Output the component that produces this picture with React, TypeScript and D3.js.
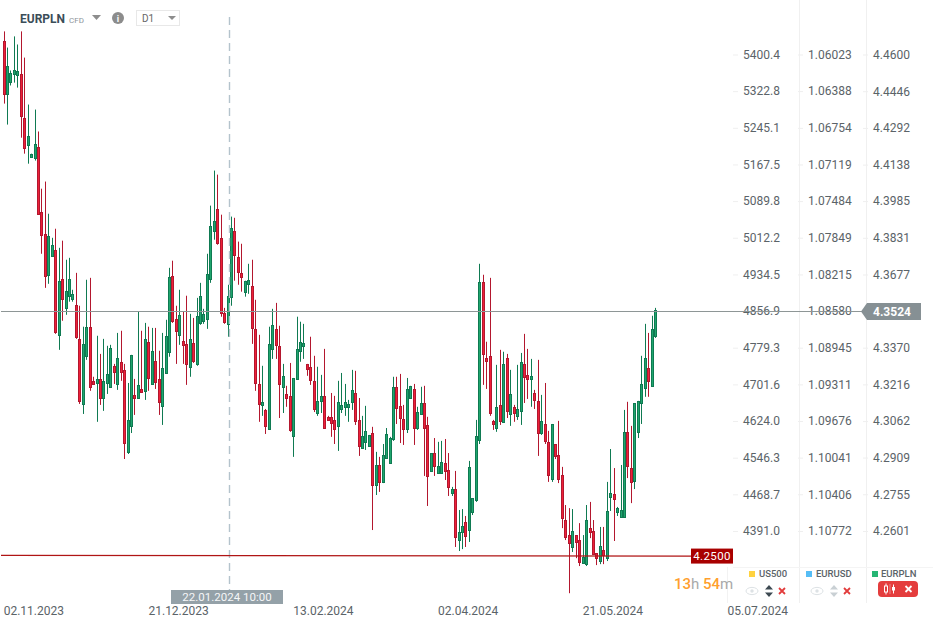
import { useEffect, useRef } from "react";
import * as d3 from "d3";

const W = 933;
const H = 629;

// EURPLN daily candles
const highs = [
  4.4697,4.4629,4.4533,4.4676,4.4642,4.4697,4.4587,4.4390,4.4184,4.4369,
  4.4277,4.4037,4.4067,4.3932,4.3831,4.3869,4.3789,4.3819,4.3739,4.3747,
  4.3613,4.3684,4.3546,4.3458,4.3655,4.3663,4.3248,4.3420,4.3344,4.3407,
  4.3378,4.3382,4.3302,4.3432,4.3441,4.3302,4.3222,4.3340,4.3239,4.3521,
  4.3441,4.3474,4.3458,4.3453,4.3453,4.3357,4.3432,4.3487,4.3705,4.3735,
  4.3546,4.3613,4.3521,4.3588,4.3512,4.3495,4.3579,4.3642,4.3533,4.3764,
  4.3966,4.4113,4.4096,4.3928,4.3537,4.3634,4.3920,4.3915,4.3815,4.3806,
  4.3651,4.3722,4.3739,4.3571,4.3424,4.3294,4.3113,4.3458,4.3533,4.3558,
  4.3462,4.3302,4.3210,4.3306,4.3243,4.3500,4.3479,4.3470,4.3302,4.3416,
  4.3336,4.3290,4.3256,4.3365,4.3084,4.3180,4.3168,4.3231,4.3264,4.3218,
  4.3151,4.3277,4.3273,4.3159,4.3084,4.3126,4.3004,4.3038,4.2933,4.2912,
  4.2966,4.3033,4.2996,4.3248,4.3248,4.3260,4.3130,4.3243,4.3210,4.3218,
  4.3122,4.3206,4.3210,4.3080,4.2928,4.2991,4.2975,4.2979,4.2987,4.2928,
  4.2786,4.2853,4.2689,4.2693,4.2664,4.2895,4.2739,4.3067,4.3722,4.3676,
  4.3395,4.3663,4.3067,4.3298,4.3361,4.3353,4.3344,4.3277,4.3130,4.3298,
  4.3348,4.3428,4.3365,4.3323,4.3193,4.3319,4.3172,4.3222,4.3021,4.3050,
  4.2966,4.3063,4.2870,4.2710,4.2697,4.2693,4.2584,4.2634,4.2584,4.2710,
  4.2723,4.2647,4.2508,4.2618,4.2618,4.2807,4.2945,4.2865,4.2702,4.2878,
  4.3109,4.3143,4.3042,4.3138,4.3147,4.3336,4.3470,4.3432,4.3504,4.3537,
];

const lows = [
  4.4394,4.4306,4.4470,4.4482,4.4461,4.4251,4.4184,4.4142,4.4172,4.4155,
  4.3928,4.3764,4.3621,4.3638,4.3756,4.3428,4.3361,4.3483,4.3508,4.3563,
  4.3563,4.3407,4.3134,4.3092,4.3319,4.3189,4.3214,4.3059,4.3130,4.3105,
  4.3176,4.3206,4.3218,4.3193,4.3231,4.2903,4.2924,4.3012,4.3088,4.3155,
  4.3185,4.3151,4.3189,4.3218,4.3197,4.3088,4.3046,4.3264,4.3332,4.3474,
  4.3302,4.3382,4.3302,4.3214,4.3248,4.3306,4.3294,4.3466,4.3470,4.3449,
  4.3642,4.3823,4.3802,4.3500,4.3470,4.3416,4.3546,4.3651,4.3634,4.3605,
  4.3584,4.3596,4.3386,4.3189,4.3059,4.3084,4.3008,4.3029,4.3323,4.3323,
  4.3075,4.3096,4.3122,4.3017,4.2912,4.3239,4.3311,4.3323,4.3252,4.3214,
  4.3100,4.3084,4.3096,4.3029,4.3067,4.2996,4.2966,4.2937,4.3096,4.3084,
  4.3059,4.3109,4.3046,4.2916,4.2945,4.2941,4.2958,4.2605,4.2752,4.2765,
  4.2802,4.2907,4.2886,4.2979,4.3050,4.2970,4.2962,4.3012,4.3159,4.2962,
  4.3025,4.3092,4.2832,4.2706,4.2853,4.2832,4.2844,4.2844,4.2815,4.2748,
  4.2748,4.2534,4.2517,4.2525,4.2534,4.2555,4.2668,4.2723,4.2966,4.3214,
  4.3197,4.3084,4.3025,4.3017,4.3046,4.3059,4.3075,4.3042,4.3059,4.3067,
  4.3046,4.3138,4.3155,4.3122,4.3113,4.2916,4.3004,4.2966,4.2807,4.2807,
  4.2903,4.2802,4.2613,4.2563,4.2340,4.2513,4.2487,4.2454,4.2466,4.2454,
  4.2571,4.2504,4.2458,4.2462,4.2462,4.2475,4.2685,4.2559,4.2664,4.2656,
  4.2660,4.2823,4.2718,4.2777,4.2991,4.3050,4.3164,4.3164,4.3210,4.3411,
];

const opens = [
  4.4655,4.4432,4.4487,4.4516,4.4512,4.4520,4.4335,4.4218,4.4172,4.4167,
  4.4214,4.3941,4.3848,4.3676,4.3756,4.3781,4.3424,4.3659,4.3537,4.3588,
  4.3575,4.3550,4.3407,4.3134,4.3336,4.3458,4.3231,4.3222,4.3239,4.3159,
  4.3222,4.3206,4.3294,4.3218,4.3311,4.3277,4.2933,4.3042,4.3172,4.3159,
  4.3197,4.3189,4.3395,4.3218,4.3315,4.3239,4.3126,4.3264,4.3353,4.3672,
  4.3491,4.3424,4.3399,4.3386,4.3290,4.3390,4.3302,4.3474,4.3483,4.3491,
  4.3659,4.3861,4.3953,4.3831,4.3516,4.3470,4.3584,4.3861,4.3752,4.3684,
  4.3605,4.3638,4.3630,4.3449,4.3218,4.3130,4.3109,4.3029,4.3365,4.3449,
  4.3378,4.3206,4.3176,4.3168,4.3000,4.3239,4.3357,4.3378,4.3302,4.3290,
  4.3231,4.3096,4.3147,4.3168,4.3080,4.3080,4.3067,4.3042,4.3113,4.3122,
  4.3122,4.3143,4.3180,4.3067,4.2949,4.2975,4.2958,4.3012,4.2794,4.2878,
  4.2807,4.2907,4.2886,4.2987,4.3206,4.3126,4.3071,4.3029,4.3159,4.3197,
  4.3033,4.3092,4.3138,4.3046,4.2853,4.2928,4.2844,4.2844,4.2886,4.2857,
  4.2760,4.2777,4.2563,4.2597,4.2639,4.2605,4.2681,4.2731,4.2983,4.3647,
  4.3327,4.3336,4.3063,4.3033,4.3130,4.3059,4.3327,4.3092,4.3122,4.3084,
  4.3105,4.3302,4.3256,4.3239,4.3180,4.3147,4.3012,4.3050,4.2975,4.2819,
  4.2966,4.2920,4.2836,4.2647,4.2584,4.2534,4.2584,4.2563,4.2466,4.2462,
  4.2613,4.2601,4.2508,4.2475,4.2521,4.2487,4.2744,4.2756,4.2681,4.2660,
  4.2660,4.3017,4.2865,4.2811,4.3017,4.3138,4.3201,4.3285,4.3210,4.3420,
];

const closes = [
  4.4432,4.4550,4.4524,4.4533,4.4529,4.4344,4.4209,4.4256,4.4184,4.4226,
  4.3932,4.3844,4.3672,4.3840,4.3802,4.3437,4.3651,4.3575,4.3609,4.3659,
  4.3596,4.3416,4.3147,4.3386,4.3458,4.3206,4.3218,4.3239,4.3159,4.3231,
  4.3260,4.3369,4.3269,4.3327,4.3269,4.2970,4.3067,4.3340,4.3159,4.3214,
  4.3185,4.3407,4.3243,4.3357,4.3227,4.3143,4.3285,4.3420,4.3668,4.3483,
  4.3441,4.3508,4.3382,4.3302,4.3407,4.3315,4.3504,4.3588,4.3512,4.3680,
  4.3882,4.3903,4.3810,4.3516,4.3479,4.3588,4.3873,4.3760,4.3689,4.3668,
  4.3651,4.3655,4.3453,4.3222,4.3134,4.3143,4.3042,4.3386,4.3466,4.3382,
  4.3218,4.3252,4.3159,4.3025,4.3243,4.3365,4.3395,4.3390,4.3281,4.3235,
  4.3113,4.3147,4.3168,4.3033,4.3067,4.3054,4.3029,4.3143,4.3130,4.3143,
  4.3134,4.3193,4.3063,4.2958,4.3000,4.3021,4.3004,4.2794,4.2878,4.2807,
  4.2920,4.3008,4.2991,4.3206,4.3117,4.3075,4.3029,4.3197,4.3210,4.3033,
  4.3101,4.3138,4.3033,4.2832,4.2928,4.2874,4.2874,4.2891,4.2853,4.2786,
  4.2777,4.2576,4.2597,4.2622,4.2580,4.2870,4.2739,4.3000,4.3647,4.3344,
  4.3315,4.3096,4.3050,4.3122,4.3063,4.3302,4.3105,4.3176,4.3096,4.3113,
  4.3311,4.3248,4.3239,4.3252,4.3151,4.3012,4.3063,4.2979,4.2836,4.3050,
  4.2916,4.2819,4.2655,4.2576,4.2550,4.2601,4.2555,4.2471,4.2492,4.2647,
  4.2597,4.2504,4.2487,4.2538,4.2500,4.2685,4.2760,4.2735,4.2697,4.2689,
  4.3017,4.2874,4.2807,4.3138,4.3147,4.3218,4.3327,4.3231,4.3449,4.3529,
];

// axis columns
const plnTicks = [4.46, 4.4446, 4.4292, 4.4138, 4.3985, 4.3831, 4.3677, 4.3524, 4.337, 4.3216, 4.3062, 4.2909, 4.2755, 4.2601];
const spxTicks = [5400.4, 5322.8, 5245.1, 5167.5, 5089.8, 5012.2, 4934.5, 4856.9, 4779.3, 4701.6, 4624.0, 4546.3, 4468.7, 4391.0];
const usdTicks = [1.06023, 1.06388, 1.06754, 1.07119, 1.07484, 1.07849, 1.08215, 1.0858, 1.08945, 1.09311, 1.09676, 1.10041, 1.10406, 1.10772];

const dateIdx = [0, 42, 84, 126, 168, 210];
const dateLabels = ["02.11.2023", "21.12.2023", "13.02.2024", "02.04.2024", "21.05.2024", "05.07.2024"];

const lastPrice = 4.3524;
const alertPrice = 4.25;
const crosshairIdx = 65;
const crosshairLabel = "22.01.2024 10:00";

const FONT = "Roboto, sans-serif";

export default function App() {
  const svgRef = useRef<SVGSVGElement | null>(null);

  useEffect(() => {
    if (!svgRef.current) return;
    const svg = d3.select(svgRef.current);
    svg.selectAll("*").remove();

    const x = d3.scaleLinear().domain([0, 189]).range([4, 655.5]);
    const y = d3.scaleLinear().domain([4.46, 4.2601]).range([54.5, 531]);
    const ySpx = d3.scaleLinear().domain([5400.4, 4391.0]).range([54.5, 531]);
    const yUsd = d3.scaleLinear().domain([1.06023, 1.10772]).range([54.5, 531]);
    const px = (i: number) => Math.floor(x(i)) + 0.5;

    // column separators
    [799.5, 866.5].forEach((sx) => {
      svg.append("line").attr("x1", sx).attr("x2", sx).attr("y1", 0).attr("y2", 603)
        .attr("stroke", "#f0f0f0");
    });
    svg.append("line").attr("x1", 727.5).attr("x2", 727.5).attr("y1", 567).attr("y2", 603).attr("stroke", "#f2f2f2");
    svg.append("line").attr("x1", 733).attr("x2", 933).attr("y1", 567.5).attr("y2", 567.5).attr("stroke", "#f4f4f4");

    // price axes
    const priceAxis = (scale: d3.ScaleLinear<number, number>, vals: number[], fmt: string, left: number) => {
      const g = svg.append("g").attr("transform", `translate(${left},0)`)
        .call(d3.axisRight(scale).tickValues(vals).tickSize(5).tickPadding(5).tickFormat((d) => d3.format(fmt)(d as number)));
      g.select(".domain").remove();
      g.selectAll("line").attr("stroke", "#efefef");
      g.selectAll("text").attr("fill", "#5b6368").attr("font-family", FONT).attr("font-size", 12);
    };
    priceAxis(ySpx, spxTicks, ".1f", 733);
    priceAxis(yUsd, usdTicks, ".5f", 798);
    priceAxis(y, plnTicks, ".4f", 863);

    // date axis
    const dateAxis = svg.append("g").attr("transform", "translate(-0.8,603)")
      .call(d3.axisBottom(x).tickValues(dateIdx).tickSize(0).tickPadding(3)
        .tickFormat((_, i) => dateLabels[i]));
    dateAxis.select(".domain").remove();
    dateAxis.selectAll("text").attr("fill", "#5b6368").attr("font-family", FONT).attr("font-size", 12)
      .attr("text-anchor", "start");

    // candles
    const candles = d3.range(highs.length).map((i) => ({
      i, high: highs[i], low: lows[i], open: opens[i], close: closes[i],
    }));
    const g = svg.append("g");
    const up = (d: { open: number; close: number }) => d.close > d.open;
    g.selectAll("line.wick").data(candles).enter().append("line")
      .attr("class", "wick")
      .attr("x1", (d) => px(d.i)).attr("x2", (d) => px(d.i))
      .attr("y1", (d) => y(d.high)).attr("y2", (d) => y(d.low))
      .attr("stroke", (d) => (up(d) ? "#0f7a52" : "#b3172e"));
    g.selectAll("rect.body").data(candles).enter().append("rect")
      .attr("class", "body")
      .attr("x", (d) => px(d.i) - 1)
      .attr("width", 2)
      .attr("y", (d) => Math.round(y(Math.max(d.open, d.close))) + 0.5)
      .attr("height", (d) => Math.max(1, Math.round(Math.abs(y(d.open) - y(d.close)))))
      .attr("fill", (d) => (up(d) ? "#1fa56d" : "#ee2039"))
      .attr("stroke", (d) => (up(d) ? "#0f7a52" : "#b3172e"));

    // crosshair
    const cx = px(crosshairIdx) + 1;
    svg.append("line").attr("x1", cx).attr("x2", cx).attr("y1", 17).attr("y2", 590)
      .attr("stroke", "#b4c3cc").attr("stroke-width", 1.4).attr("stroke-dasharray", "8 5");
    svg.append("rect").attr("x", 171).attr("y", 590).attr("width", 112).attr("height", 14).attr("fill", "#94a1a8");
    svg.append("text").attr("x", 227).attr("y", 601).attr("text-anchor", "middle")
      .attr("fill", "#f4f6f7").attr("font-family", FONT).attr("font-size", 11.5)
      .text(crosshairLabel);

    // current price
    const yl = Math.round(y(lastPrice)) + 0.5;
    svg.append("line").attr("x1", 1).attr("x2", 866).attr("y1", yl).attr("y2", yl).attr("stroke", "#8e9696");
    svg.append("path")
      .attr("d", `M861,${yl}L867,${yl - 8.5}H921V${yl + 8.5}H867Z`)
      .attr("fill", "#869094");
    svg.append("text").attr("x", 873).attr("y", yl + 4.5).attr("fill", "#fff")
      .attr("font-family", FONT).attr("font-size", 12).attr("font-weight", 700).text(d3.format(".4f")(lastPrice));

    // alert level
    const ya = y(alertPrice);
    svg.append("line").attr("x1", 1).attr("x2", 692).attr("y1", ya + 0.2).attr("y2", ya + 1)
      .attr("stroke", "#b01515").attr("stroke-width", 1.2);
    svg.append("rect").attr("x", 691).attr("y", ya - 6.5).attr("width", 42).attr("height", 15).attr("fill", "#a80000");
    svg.append("text").attr("x", 712).attr("y", ya + 5).attr("text-anchor", "middle").attr("fill", "#fff")
      .attr("font-family", FONT).attr("font-size", 11.5).attr("letter-spacing", 0.4).text(d3.format(".4f")(alertPrice));

    // countdown
    const timer = svg.append("text").attr("x", 674).attr("y", 589).attr("font-family", FONT).attr("font-size", 15);
    [["13", "#ff9f2e", 500], ["h ", "#a9a9a9", 400], ["54", "#ff9f2e", 500], ["m", "#a9a9a9", 400]].forEach(([t, c, w]) => {
      timer.append("tspan").attr("fill", c as string).attr("font-weight", w as number).attr("xml:space", "preserve").text(t as string);
    });

    // header
    svg.append("text").attr("x", 20).attr("y", 23).attr("font-family", FONT).attr("font-weight", 700)
      .attr("font-size", 12).attr("fill", "#3b4d58").text("EURPLN");
    svg.append("text").attr("x", 69).attr("y", 23).attr("font-family", FONT).attr("font-size", 8)
      .attr("fill", "#8d9499").text("CFD");
    svg.append("path").attr("d", "M92,15H101L96.5,20Z").attr("fill", "#8d8d8d");
    svg.append("circle").attr("cx", 118).attr("cy", 18).attr("r", 6).attr("fill", "#8c8c8c");
    svg.append("text").attr("x", 118).attr("y", 21.5).attr("text-anchor", "middle").attr("font-family", FONT)
      .attr("font-size", 9).attr("font-weight", 700).attr("fill", "#fff").text("i");
    svg.append("rect").attr("x", 136.5).attr("y", 10.5).attr("width", 43).attr("height", 15).attr("fill", "#fff")
      .attr("stroke", "#e8e8e8");
    svg.append("text").attr("x", 142).attr("y", 22).attr("font-family", FONT).attr("font-size", 10)
      .attr("fill", "#666").text("D1");
    svg.append("path").attr("d", "M168,16H176L172,20Z").attr("fill", "#8d8d8d");

    // legend
    const legend = [
      { name: "US500", c: "#ffd23f", sq: 749, tx: 759, eye: 751, arrows: 769, xx: 782, arrowFill: "#3d4a52" },
      { name: "EURUSD", c: "#56bdf5", sq: 806, tx: 816, eye: 816, arrows: 834, xx: 847, arrowFill: "#c9d0d4" },
      { name: "EURPLN", c: "#26b574", sq: 872, tx: 881, eye: 0, arrows: 0, xx: 0, arrowFill: "" },
    ];
    legend.forEach((l) => {
      svg.append("rect").attr("x", l.sq).attr("y", 571).attr("width", 6).attr("height", 6).attr("fill", l.c);
      svg.append("text").attr("x", l.tx).attr("y", 577).attr("font-family", FONT).attr("font-size", 9.5)
        .attr("font-weight", 500).attr("fill", "#5b6368").text(l.name);
      if (!l.eye) return;
      svg.append("ellipse").attr("cx", l.eye + 1).attr("cy", 591).attr("rx", 6).attr("ry", 3.6)
        .attr("fill", "none").attr("stroke", "#dde2e5").attr("stroke-width", 1);
      svg.append("circle").attr("cx", l.eye + 1).attr("cy", 591).attr("r", 1.7).attr("fill", "#dde2e5");
      svg.append("path")
        .attr("d", `M${l.arrows - 4},589.5L${l.arrows},585L${l.arrows + 4},589.5ZM${l.arrows - 4},592.5L${l.arrows},597L${l.arrows + 4},592.5Z`)
        .attr("fill", l.arrowFill);
      svg.append("path")
        .attr("d", `M${l.xx - 3},588L${l.xx + 3},594M${l.xx + 3},588L${l.xx - 3},594`)
        .attr("stroke", "#e23c3c").attr("stroke-width", 1.8);
    });

    // active series button
    svg.append("rect").attr("x", 878).attr("y", 581).attr("width", 40).attr("height", 16).attr("rx", 4).attr("fill", "#e43d3d");
    svg.append("path").attr("d", "M886,583.5V594.5M893.5,584.5V593.5").attr("stroke", "#fff");
    svg.append("rect").attr("x", 884.5).attr("y", 586).attr("width", 3).attr("height", 6).attr("fill", "#e43d3d").attr("stroke", "#fff");
    svg.append("rect").attr("x", 892).attr("y", 587).attr("width", 3).attr("height", 3.5).attr("fill", "#fff");
    svg.append("line").attr("x1", 890).attr("x2", 890).attr("y1", 584).attr("y2", 594).attr("stroke", "#f3a5a5").attr("stroke-width", 0.7);
    svg.append("path").attr("d", "M905.5,586L911.5,592M911.5,586L905.5,592").attr("stroke", "#fff").attr("stroke-width", 1.8);
  }, []);

  return (
    <svg
      ref={svgRef}
      width={W}
      height={H}
      style={{ position: "fixed", left: 0, top: 0, background: "#fff" }}
    />
  );
}
